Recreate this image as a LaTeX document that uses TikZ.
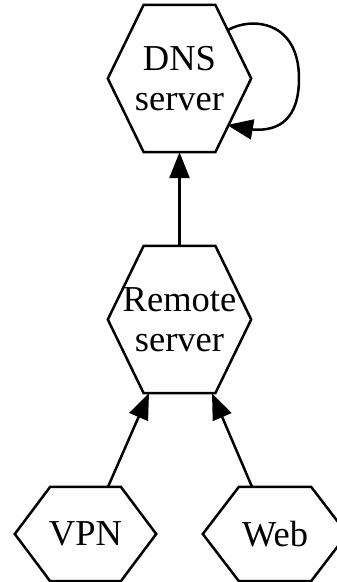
\documentclass[tikz,border=0pt]{standalone}
\usepackage{fontspec}
\setmainfont{Liberation Serif}
\usetikzlibrary{calc,arrows.meta}

% outline of a stretched hexagon around a named box node
\newcommand\hexframe[1]{%
  \draw[edge] (#1.west)
    -- ($(#1.north west)!.25!(#1.north east)$)
    -- ($(#1.north west)!.75!(#1.north east)$)
    -- (#1.east)
    -- ($(#1.south west)!.75!(#1.south east)$)
    -- ($(#1.south west)!.25!(#1.south east)$)
    -- cycle;}

\begin{document}
\begin{tikzpicture}[x=1pt,y=-1pt,
  edge/.style={line width=2.5pt,line join=miter},
  link/.style={edge,-{Triangle[length=26pt,width=20pt]}},
  hexbox/.style={rectangle,inner sep=0pt,align=center,
    font=\fontsize{36.5}{40}\selectfont},
  tall/.style={hexbox,minimum width=143pt,minimum height=147pt},
  flat/.style={hexbox,minimum height=94pt}]
  \useasboundingbox (0,0) rectangle (337,582);

  \node[tall] (dns) at (179.5,78.5) {DNS\\server};
  \node[tall] (remote) at (179.5,319.5) {Remote\\server};
  \node[flat,minimum width=141pt] (vpn) at (85.5,534) {VPN};
  \node[flat,minimum width=144pt] (web) at (275,534) {Web};

  \hexframe{dns}
  \hexframe{remote}
  \hexframe{vpn}
  \hexframe{web}

  % connectors
  \draw[link] (remote.north) -- (dns.south);
  \draw[link] ([xshift=22.5pt]vpn.north) -- ([xshift=-30.5pt]remote.south);
  \draw[link] ([xshift=-23pt]web.north) -- ([xshift=32.5pt]remote.south);
  \draw[link] ($(dns)+(48.5,-48.5)$)
    .. controls ($(dns)+(72,-62)$) and ($(dns)+(119.5,-58)$) .. ($(dns)+(119.5,0)$)
    .. controls ($(dns)+(119.5,40)$) and ($(dns)+(100,53)$) .. ($(dns)+(73.5,51)$)
    -- ($(dns)+(47.5,46.5)$);
\end{tikzpicture}
\end{document}
